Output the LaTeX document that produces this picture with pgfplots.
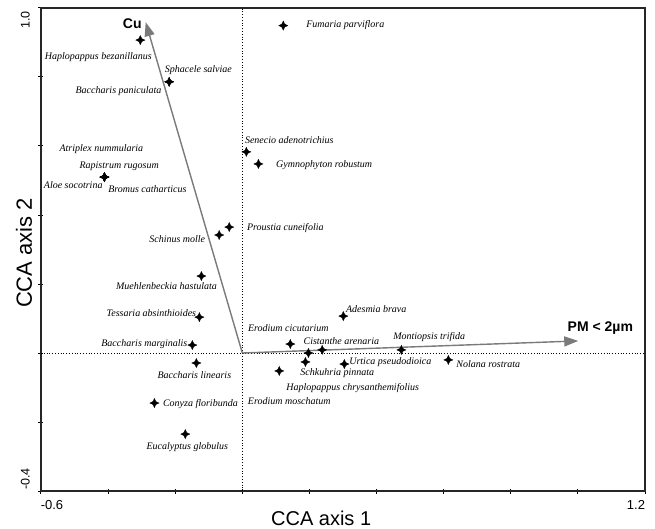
\documentclass[border=0pt]{standalone}
\usepackage{fontspec}
\setmainfont{Liberation Sans}
\newfontfamily\lserif{Liberation Serif}
\usepackage{pgfplots}
\pgfplotsset{compat=1.18}
\usetikzlibrary{arrows.meta}
\pgfdeclareplotmark{star4}{%
 \pgfpathmoveto{\pgfqpoint{0pt}{\pgfplotmarksize}}%
 \pgfpathlineto{\pgfqpoint{0.32\pgfplotmarksize}{0.32\pgfplotmarksize}}%
 \pgfpathlineto{\pgfqpoint{\pgfplotmarksize}{0pt}}%
 \pgfpathlineto{\pgfqpoint{0.32\pgfplotmarksize}{-0.32\pgfplotmarksize}}%
 \pgfpathlineto{\pgfqpoint{0pt}{-\pgfplotmarksize}}%
 \pgfpathlineto{\pgfqpoint{-0.32\pgfplotmarksize}{-0.32\pgfplotmarksize}}%
 \pgfpathlineto{\pgfqpoint{-\pgfplotmarksize}{0pt}}%
 \pgfpathlineto{\pgfqpoint{-0.32\pgfplotmarksize}{0.32\pgfplotmarksize}}%
 \pgfpathclose\pgfusepathqfillstroke}
\definecolor{arrowgray}{HTML}{7A7A7A}
\tikzset{lab/.style={font=\lserif\itshape\fontsize{10}{12}\selectfont, text=black, inner sep=0pt}}
\begin{document}
\begin{tikzpicture}
\path[use as bounding box] (-41pt,-37pt) rectangle (614pt,491pt);
\begin{axis}[
  scale only axis, width=604pt, height=483pt,
  xmin=-0.6, xmax=1.2, ymin=-0.4, ymax=1.0,
  xtick={-0.6,-0.4,-0.2,0,0.2,0.4,0.6,0.8,1.0,1.2},
  ytick={-0.4,-0.2,0,0.2,0.4,0.6,0.8,1.0},
  xticklabels={}, yticklabels={},
  xtick pos=bottom, ytick pos=left,
  tick align=center, major tick length=5pt,
  every tick/.style={black, line width=1pt},
  axis line style={line width=1.4pt, black!85},
  clip=false,
]
% reference lines
\addplot[black, dotted, line width=0.8pt] coordinates {(0,-0.4) (0,1.0)};
\addplot[black, dotted, line width=0.8pt] coordinates {(-0.6,0) (1.2,0)};
% environmental arrows
\addplot[arrowgray, line width=1.4pt, -{Triangle[length=14pt,width=10pt]}] coordinates {(0,0) (-0.288,0.959)};
\addplot[arrowgray, line width=1.4pt, -{Triangle[length=14pt,width=10pt]}] coordinates {(0,0) (1.001,0.035)};
% species
\addplot[only marks, mark=star4, mark size=4.6pt, black, mark options={line width=0.3pt}] coordinates {
(-0.304,0.907) (-0.218,0.786) (-0.218,0.786) (0.122,0.949) (0.012,0.583)
(0.048,0.548) (-0.411,0.510) (-0.411,0.510) (-0.411,0.510) (-0.411,0.510)
(-0.069,0.342) (-0.039,0.365) (-0.122,0.223) (-0.128,0.104) (-0.149,0.023)
(-0.137,-0.029) (-0.262,-0.145) (-0.170,-0.235) (0.143,0.026) (0.238,0.009)
(0.197,0.000) (0.188,-0.026) (0.110,-0.052) (0.304,-0.032) (0.301,0.107)
(0.474,0.009) (0.614,-0.020)
};
% labels
\node[lab] at (axis cs:-0.429,0.858) {Haplopappus bezanillanus};
\node[lab] at (axis cs:-0.131,0.820) {Sphacele salviae};
\node[lab] at (axis cs:-0.369,0.759) {Baccharis paniculata};
\node[lab] at (axis cs:0.307,0.951) {Fumaria parviflora};
\node[lab] at (axis cs:0.140,0.617) {Senecio adenotrichius};
\node[lab] at (axis cs:0.244,0.545) {Gymnophyton robustum};
\node[lab] at (axis cs:-0.420,0.591) {Atriplex nummularia};
\node[lab] at (axis cs:-0.367,0.542) {Rapistrum rugosum};
\node[lab] at (axis cs:-0.504,0.487) {Aloe socotrina};
\node[lab] at (axis cs:-0.283,0.475) {Bromus catharticus};
\node[lab] at (axis cs:-0.194,0.330) {Schinus molle};
\node[lab] at (axis cs:0.128,0.362) {Proustia cuneifolia};
\node[lab] at (axis cs:-0.226,0.194) {Muehlenbeckia hastulata};
\node[lab] at (axis cs:-0.271,0.116) {Tessaria absinthioides};
\node[lab] at (axis cs:-0.292,0.026) {Baccharis marginalis};
\node[lab] at (axis cs:-0.143,-0.064) {Baccharis linearis};
\node[lab] at (axis cs:-0.125,-0.148) {Conyza floribunda};
\node[lab] at (axis cs:-0.164,-0.272) {Eucalyptus globulus};
\node[lab] at (axis cs:0.137,0.072) {Erodium cicutarium};
\node[lab] at (axis cs:0.295,0.035) {Cistanthe arenaria};
\node[lab] at (axis cs:0.441,-0.026) {Urtica pseudodioica};
\node[lab] at (axis cs:0.283,-0.058) {Schkuhria pinnata};
\node[lab, anchor=west] at (axis cs:0.131,-0.101) {Haplopappus chrysanthemifolius};
\node[lab] at (axis cs:0.140,-0.139) {Erodium moschatum};
\node[lab] at (axis cs:0.399,0.128) {Adesmia brava};
\node[lab] at (axis cs:0.557,0.046) {Montiopsis trifida};
\node[lab] at (axis cs:0.733,-0.032) {Nolana rostrata};
\node[font=\bfseries\fontsize{14}{16}\selectfont, inner sep=0pt] at (axis cs:-0.328,0.954) {Cu};
\node[font=\bfseries\fontsize{14}{16}\selectfont, inner sep=0pt] at (axis cs:1.067,0.072) {PM < 2µm};
% tick labels
\node[font=\fontsize{13}{15}\selectfont, inner sep=0pt] at ([xshift=11pt,yshift=-14pt]axis cs:-0.6,-0.4) {-0.6};
\node[font=\fontsize{13}{15}\selectfont, inner sep=0pt] at ([xshift=-9pt,yshift=-14pt]axis cs:1.2,-0.4) {1.2};
\node[font=\fontsize{12.5}{15}\selectfont, inner sep=0pt, rotate=90, anchor=south] at ([xshift=-11pt,yshift=-12pt]axis cs:-0.6,1.0) {1.0};
\node[font=\fontsize{12.5}{15}\selectfont, inner sep=0pt, rotate=90, anchor=south] at ([xshift=-11pt,yshift=12pt]axis cs:-0.6,-0.4) {-0.4};
% axis titles
\node[font=\fontsize{20}{22}\selectfont, inner sep=0pt] at ([yshift=-27pt]axis cs:0.235,-0.4) {CCA axis 1};
\node[font=\fontsize{22}{24}\selectfont, inner sep=0pt, rotate=90] at ([xshift=-17pt]axis cs:-0.6,0.29) {CCA axis 2};
\end{axis}
\end{tikzpicture}
\end{document}
